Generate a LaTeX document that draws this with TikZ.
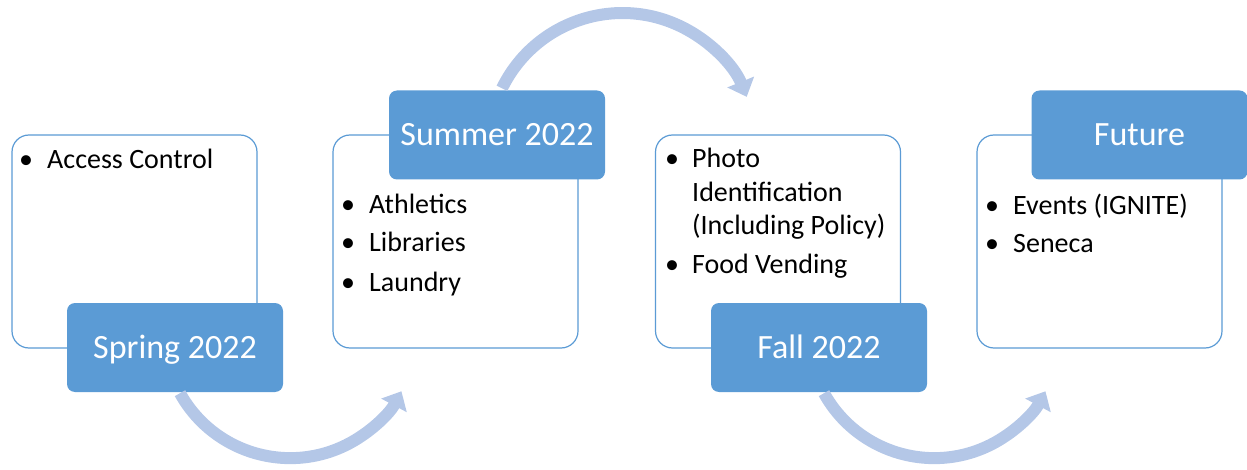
\documentclass[tikz,border=0pt]{standalone}
\usepackage{fontspec}
\setmainfont{Carlito}
\usetikzlibrary{arrows.meta}
\definecolor{accent}{HTML}{5B9BD5}
\definecolor{flowc}{HTML}{B4C7E7}
\begin{document}
\begin{tikzpicture}[x=1pt,y=1pt,
 panel/.style={draw=accent, line width=1.2pt, rounded corners=17pt, fill=white, minimum width=245pt, minimum height=213pt, inner sep=0pt},
 tag/.style={fill=accent, rounded corners=8pt, minimum width=216pt, minimum height=89pt, inner sep=0pt, text=white, font=\fontsize{34}{40}\selectfont, text height=22pt, text depth=0pt},
 item/.style={anchor=base west, inner sep=0pt, font=\fontsize{28}{33}\selectfont},
 dot/.style={anchor=base, inner sep=0pt, font=\fontsize{28}{33}\selectfont},
 flow/.style={draw=flowc, line width=12pt, -{Triangle[width=28pt,length=16pt]}}]
\useasboundingbox (0,0) rectangle (1247,-470);
% panels
\node[panel] (p1) at (134.5,-241.5) {};
\node[panel] (p2) at (455.5,-241.5) {};
\node[panel] (p3) at (778,-241.5) {};
\node[panel] (p4) at (1099.5,-241.5) {};
% tags
\node[tag] (s1) at (175,-347.5) {Spring 2022};
\node[tag] (s2) at (497,-135) {Summer 2022};
\node[tag] (s3) at (819,-347.5) {Fall 2022};
\node[tag] (s4) at (1139.5,-135) {Future};
% arrows
\draw[flow] ([xshift=5pt,yshift=-1pt]s1.south) arc[start angle=209, end angle=332, radius=126pt];
\draw[flow] ([xshift=5pt,yshift=2pt]s2.north) arc[start angle=154, end angle=22, radius=134pt];
\draw[flow] ([xshift=5pt,yshift=-1pt]s3.south) arc[start angle=209, end angle=332, radius=126pt];
% box 1
\node[dot] (d11) at (26,-169) {\textbullet};
\node[item] (t11) at (47,-169) {Access Control};
% box 2
\node[dot] (d21) at (348,-214) {\textbullet};
\node[item] (t21) at (369,-214) {Athletics};
\node[dot] (d22) at (348,-252) {\textbullet};
\node[item] (t22) at (369,-252) {Libraries};
\node[dot] (d23) at (348,-291) {\textbullet};
\node[item] (t23) at (369,-291) {Laundry};
% box 3
\node[dot] (d31) at (672,-168) {\textbullet};
\node[item] (t31) at (692,-168) {Photo};
\node[item] (t32) at (692,-202) {Identification};
\node[item] (t33) at (692,-235) {(Including Policy)};
\node[dot] (d34) at (672,-273) {\textbullet};
\node[item] (t34) at (692,-273) {Food Vending};
% box 4
\node[dot] (d41) at (992,-215) {\textbullet};
\node[item] (t41) at (1013,-215) {Events (IGNITE)};
\node[dot] (d42) at (992,-253) {\textbullet};
\node[item] (t42) at (1013,-253) {Seneca};
\end{tikzpicture}
\end{document}
